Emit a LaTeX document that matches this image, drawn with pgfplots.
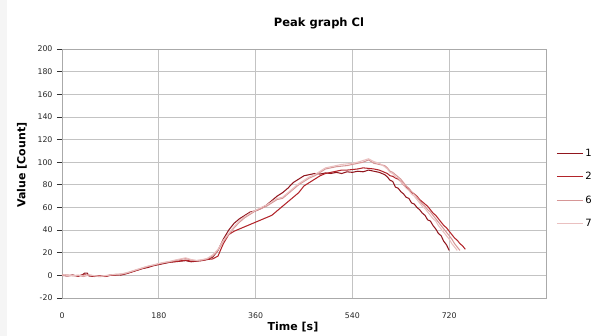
\documentclass[border=0pt]{standalone}
\usepackage{fontspec}
\setmainfont{DejaVu Sans}
\usepackage{pgfplots}
\pgfplotsset{compat=1.18}
\definecolor{sOne}{RGB}{145,22,30}
\definecolor{sTwo}{RGB}{178,36,42}
\definecolor{sSix}{RGB}{214,150,150}
\definecolor{sSeven}{RGB}{234,192,192}
\definecolor{gridc}{RGB}{195,195,195}
\definecolor{framec}{RGB}{170,170,170}
\begin{document}
\begin{tikzpicture}[x=1pt,y=1pt]
\useasboundingbox (0pt,0pt) rectangle (616pt,336pt);
\fill[black!4] (0pt,0pt) rectangle (7pt,336pt);
\begin{axis}[
  at={(62pt,38pt)}, anchor=south west,
  scale only axis, width=484pt, height=249pt,
  xmin=0, xmax=900, ymin=-20, ymax=200,
  xtick={0,180,360,540,720,900}, xticklabels={0,180,360,540,720,},
  ytick={-20,0,20,...,200},
  ytick pos=left,
  grid=major, major grid style={color=gridc, line width=0.8pt},
  axis line style={color=framec, line width=0.8pt},
  tick align=outside, major tick length=5pt,
  ytick style={color=black!80, line width=0.8pt},
  xtick style={draw=none},
  tick label style={font=\fontsize{7.8}{9}\selectfont, color=black!85},
  /pgf/number format/assume math mode=true,
  yticklabel style={xshift=-1pt},
  xticklabel style={yshift=-6pt},
  legend cell align=left,
  legend style={draw=none, fill=none, at={(1.0145,0.44)}, anchor=west,
    font=\fontsize{10}{11}\selectfont, row sep=10.5pt},
  legend image code/.code={\draw[#1, line width=1.1pt] (0pt,0pt) -- (26pt,0pt);},
  every axis plot/.append style={line width=1.05pt},
]
% series 1
\addplot[sOne] coordinates {
(0,0) (10,-0.5) (20,0.3) (30,-0.8) (38,0.5) (42,2) (47,2) (50,-0.5) (60,-1) (70,-0.5) (80,-1) (90,0) (100,0.5) (110,0.3) (120,1.5) (130,3) (140,4.5) (150,6) (160,7) (170,8.5) (180,9.5) (190,10.5) (200,11.5) (210,12) (220,12.5) (230,13) (240,12) (250,12.5) (260,13) (270,14) (280,16) (290,22) (300,32) (310,40) (320,46) (330,50) (340,53) (350,56) (360,57) (370,59) (380,62) (390,66) (400,70) (410,73) (420,77) (430,82) (440,85) (450,88) (460,89) (470,90) (480,89.5) (490,90.5) (500,90) (510,91) (520,90) (530,91.5) (540,91) (550,92) (560,91.5) (570,93) (580,92) (590,91) (600,89) (605,87) (610,84) (615,83) (620,78) (625,77) (630,74) (635,72) (640,69) (645,68) (650,64) (655,63) (660,60) (665,58) (670,55) (675,53) (680,49) (685,48) (690,44) (695,41) (700,37) (705,35) (710,30) (715,27) (720,22)
};
\addlegendentry{1}
% series 2
\addplot[sTwo] coordinates {
(0,0.3) (10,-0.3) (20,0) (30,-0.5) (40,0.5) (50,0) (60,-0.8) (70,-0.3) (80,-1) (90,0.2) (100,0.3) (110,0.8) (120,1.8) (130,3.2) (140,4.8) (150,6.2) (160,7.5) (170,8.8) (180,10) (190,11) (200,11.8) (210,12.2) (220,12.8) (230,13.5) (240,12.5) (250,12.8) (260,13.2) (270,14) (280,14.5) (290,17) (300,28) (310,36) (320,39) (330,41) (340,43) (350,45) (360,47) (370,49) (380,51) (390,53) (400,57) (410,61) (420,65) (430,69) (440,73) (450,79) (460,82) (470,85) (480,88) (490,90) (500,91) (510,92) (520,93) (530,93) (540,93.5) (550,94) (560,95) (570,94.5) (580,94) (590,93) (600,91) (605,90) (610,88) (615,87.5) (620,86) (625,85) (630,83) (635,80) (640,78) (645,76) (650,73) (655,72) (660,70) (665,67) (670,65) (675,63) (680,61) (685,58) (690,55) (695,53) (700,50) (705,47) (710,44) (715,42) (720,39) (725,36) (730,33) (735,31) (740,28) (745,26) (750,23)
};
\addlegendentry{2}
% series 6
\addplot[sSix] coordinates {
(0,0) (10,0.5) (20,-0.5) (30,0) (40,-1) (50,0.3) (60,-0.5) (70,-1.2) (80,-0.5) (90,0.5) (100,0.8) (110,1) (120,2) (130,3.5) (140,5) (150,6.5) (160,8) (170,9) (180,10.2) (190,11.2) (200,12) (210,13) (220,14) (230,15) (240,13.5) (250,13) (260,13.5) (270,14.5) (280,17) (290,22) (300,30) (310,36) (320,42) (330,47) (340,51) (350,54) (360,57) (370,59) (380,61) (390,64) (400,67) (410,68) (420,72) (430,76) (440,80) (450,83) (460,86) (470,88) (480,91) (490,94) (500,95) (510,96) (520,96.5) (530,97) (540,98) (550,99) (560,100) (570,102) (580,99) (590,98) (600,97) (605,95) (610,92) (615,91) (620,89) (625,87) (630,85) (635,82) (640,79) (645,77) (650,74) (655,72) (660,69) (665,66) (670,63) (675,61) (680,58) (685,56) (690,53) (695,50) (700,47) (705,44) (710,41) (715,38) (720,35) (725,32) (730,28) (735,25) (740,22)
};
\addlegendentry{6}
% series 7
\addplot[sSeven] coordinates {
(0,0.5) (10,0) (20,-0.3) (30,0.3) (40,-0.5) (50,0.5) (60,-0.3) (70,-0.8) (80,-0.2) (90,0.3) (100,1) (110,1.3) (120,2.3) (130,3.8) (140,5.3) (150,6.8) (160,8.2) (170,9.3) (180,10.5) (190,11.5) (200,12.3) (210,13.5) (220,14.5) (230,15.5) (240,14) (250,13.2) (260,13.8) (270,15) (280,18) (290,23) (300,31) (310,37) (320,43) (330,48) (340,52) (350,55) (360,57.5) (370,60) (380,62) (390,65) (400,68) (410,69) (420,73) (430,77) (440,81) (450,84) (460,87) (470,89) (480,92) (490,95) (500,96) (510,97) (520,98) (530,98.5) (540,99) (550,100) (560,101.5) (570,103) (580,100.5) (590,99) (600,96) (605,94) (610,91) (615,90) (620,87) (625,86) (630,83) (635,80) (640,77) (645,75) (650,72) (655,70) (660,67) (665,64) (670,61) (675,59) (680,56) (685,53) (690,50) (695,48) (700,44) (705,41) (710,38) (715,35) (720,32) (725,28) (730,25) (735,22)
};
\addlegendentry{7}
\end{axis}
\node[font=\bfseries\fontsize{11.5}{13}\selectfont] at (319pt,313pt) {Peak graph Cl};
\node[font=\bfseries\fontsize{11}{13}\selectfont, rotate=90] at (22pt,171pt) {Value [Count]};
\node[font=\bfseries\fontsize{11}{13}\selectfont] at (293pt,9pt) {Time [s]};
\end{tikzpicture}
\end{document}
